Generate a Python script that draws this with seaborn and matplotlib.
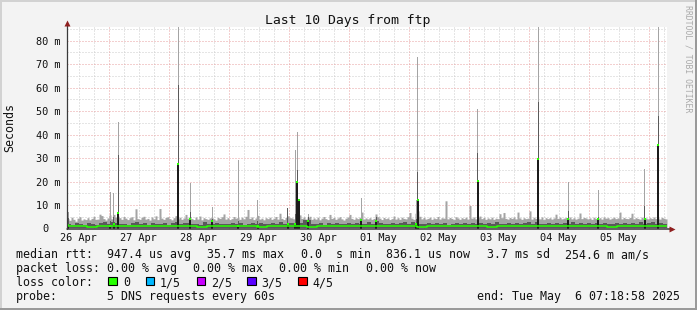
import numpy as np
import matplotlib
matplotlib.use("Agg")
import matplotlib.pyplot as plt
import matplotlib.transforms as mtransforms
import seaborn as sns
from matplotlib.patches import Rectangle

sns.set_style("white")
plt.rcParams['font.family'] = ['DejaVu Sans Mono', 'DejaVu Sans']

# ---------------- data ----------------
title = "Last 10 Days from ftp"
y_label = "Seconds"
watermark = "RRDTOOL / TOBI OETIKER"
span_days = 10
first_midnight_day = 0.6952   # Apr 27 00:00 relative to graph start (Apr 26 07:18:58)
day_labels = ["26 Apr", "27 Apr", "28 Apr", "29 Apr", "30 Apr",
              "01 May", "02 May", "03 May", "04 May", "05 May"]
y_ticks_ms = [0, 10, 20, 30, 40, 50, 60, 70, 80]
y_tick_labels = ["0", "10 m", "20 m", "30 m", "40 m", "50 m", "60 m", "70 m", "80 m"]

# outer smoke (fastest..slowest ping), ms, 300 bins
smoke_max = [
    4.2, 3.5, 4.8, 3.9, 3.1, 4.4, 5.0, 3.6, 4.1, 3.8,
    4.6, 3.7, 4.3, 5.2, 3.9, 4.0, 6.1, 5.5, 4.2, 3.6,
    4.5, 5.8, 4.1, 6.0, 4.8, 5.3, 4.6, 3.9, 5.1, 4.4,
    3.8, 4.6, 5.0, 3.7, 8.4, 4.2, 3.9, 4.8, 5.2, 4.0,
    4.3, 3.6, 4.9, 4.1, 5.4, 3.8, 8.5, 4.4, 3.9, 4.7,
    5.0, 4.2, 3.7, 4.6, 5.5, 4.1, 4.8, 3.9, 4.5, 6.0,
    4.4, 5.1, 4.2, 3.8, 4.9, 4.0, 5.3, 3.7, 4.6, 4.2,
    3.9, 4.5, 4.8, 4.1, 3.6, 4.7, 4.3, 5.0, 6.2, 4.0,
    4.6, 3.8, 4.2, 5.1, 4.4, 4.7, 3.9, 4.8, 4.1, 5.2,
    8.1, 4.3, 4.9, 3.8, 4.5, 5.6, 4.0, 4.4, 3.7, 4.6,
    4.2, 4.8, 3.9, 4.4, 5.1, 4.0, 6.5, 4.3, 3.8, 4.7,
    5.4, 4.6, 4.5, 4.1, 5.0, 4.6, 5.8, 4.3, 4.9, 4.0,
    4.6, 5.2, 3.9, 4.5, 4.0, 4.8, 3.7, 4.4, 5.1, 4.2,
    3.8, 6.0, 4.3, 4.7, 3.9, 4.5, 5.0, 4.1, 3.6, 4.4,
    4.9, 6.0, 4.3, 3.9, 4.6, 4.2, 4.8, 7.0, 4.0, 4.5,
    4.1, 4.6, 3.9, 4.3, 6.2, 5.0, 4.4, 3.8, 4.7, 4.2,
    4.5, 3.8, 4.2, 5.3, 4.0, 4.6, 3.9, 4.8, 4.3, 4.1,
    5.0, 6.8, 4.4, 3.9, 6.5, 7.5, 5.2, 4.1, 4.7, 4.0,
    4.3, 4.8, 3.9, 4.5, 4.2, 5.1, 4.0, 4.6, 4.4, 11.8,
    4.1, 4.7, 4.3, 3.8, 5.0, 4.5, 3.9, 4.6, 4.2, 4.8,
    4.0, 9.8, 4.4, 4.9, 4.1, 4.6, 5.3, 4.2, 4.7, 3.9,
    4.5, 4.1, 4.8, 3.9, 4.4, 4.2, 6.3, 4.6, 6.8, 4.3,
    4.0, 4.7, 4.3, 4.9, 4.1, 7.0, 4.5, 3.9, 4.6, 4.2,
    4.4, 7.5, 4.0, 4.8, 4.3, 4.5, 4.1, 4.9, 3.8, 4.6,
    4.2, 4.6, 4.0, 4.5, 6.1, 4.3, 4.8, 4.1, 4.4, 4.7,
    4.3, 4.9, 4.1, 4.6, 4.0, 4.4, 6.6, 4.2, 4.7, 4.5,
    4.1, 4.5, 3.9, 4.8, 4.3, 4.2, 4.6, 4.0, 4.9, 4.4,
    4.6, 4.0, 4.4, 4.8, 4.2, 4.5, 7.0, 4.1, 4.7, 4.3,
    4.2, 4.7, 6.5, 4.1, 4.6, 4.3, 4.0, 4.8, 4.4, 4.5,
    4.1, 4.6, 4.3, 4.9, 4.2, 4.5, 4.0, 4.7, 4.4, 4.1,
]
# inner smoke top (2nd..4th ping), ms, 150 bins
smoke_inner = [
    2.0, 1.6, 2.3, 1.8, 1.5, 2.4, 1.9, 1.7, 2.2, 2.6,
    2.1, 2.8, 2.4, 1.8, 2.0, 1.6, 2.3, 2.9, 1.9, 2.2,
    1.7, 2.4, 2.0, 1.8, 2.5, 1.6, 2.2, 2.7, 2.0, 2.3,
    2.4, 1.9, 2.1, 1.7, 2.6, 2.0, 1.8, 2.3, 2.1, 1.9,
    1.8, 2.2, 2.0, 2.5, 1.7, 2.1, 2.4, 1.9, 2.2, 1.8,
    2.0, 2.3, 1.8, 2.6, 2.1, 2.5, 2.2, 2.0, 2.4, 3.8,
    3.5, 2.1, 1.9, 2.3, 1.7, 2.2, 2.0, 2.5, 1.8, 2.1,
    2.3, 1.9, 2.4, 2.0, 1.8, 2.6, 2.1, 3.0, 2.2, 1.9,
    2.0, 2.4, 1.8, 2.2, 2.6, 2.1, 2.9, 2.3, 2.0, 1.8,
    2.2, 1.9, 2.5, 2.0, 2.3, 1.7, 2.1, 2.4, 1.9, 2.2,
    2.1, 2.5, 1.8, 2.3, 2.0, 2.2, 1.9, 2.6, 2.1, 1.8,
    2.3, 2.0, 2.4, 1.9, 2.2, 2.6, 2.0, 2.8, 2.1, 1.9,
    2.2, 1.8, 2.4, 2.0, 2.3, 2.1, 2.7, 1.9, 2.2, 2.0,
    2.4, 2.0, 2.2, 1.8, 2.5, 2.1, 1.9, 2.3, 2.0, 2.4,
    2.1, 2.3, 1.9, 2.6, 2.0, 2.2, 2.8, 1.8, 2.4, 2.1,
]
# median rtt, ms, 60 bins
median_rtt = [
    0.9, 1.0, 0.8, 1.1, 0.9, 1.0, 0.9, 1.2, 0.9, 1.0,
    1.0, 0.9, 1.1, 0.8, 1.0, 0.9, 1.0, 1.1, 0.9, 0.8,
    1.0, 1.1, 0.9, 1.0, 0.8, 1.0, 1.2, 0.9, 1.0, 0.9,
    0.9, 1.0, 1.1, 0.9, 1.0, 0.8, 0.9, 1.0, 1.1, 0.9,
    1.0, 0.9, 0.8, 1.0, 1.1, 0.9, 1.0, 0.9, 1.0, 1.1,
    0.9, 1.0, 1.1, 0.9, 0.8, 1.0, 0.9, 1.0, 1.1, 0.9,
]
smoke_floor = 0.35

# individual spikes: position (days since start), max, inner top, median (ms)
spike_day = [0.02, 0.72, 0.78, 0.85, 1.85, 2.05, 2.42, 2.85, 3.18, 3.68,
             3.80, 3.84, 3.86, 4.02, 4.90, 5.15, 5.82, 5.85, 6.85, 7.85,
             8.35, 8.85, 9.63, 9.85]
spike_max = [7.2, 15.5, 15.0, 45.5, 95.0, 19.5, 9.0, 29.2, 12.2, 8.7,
             33.5, 41.3, 12.0, 6.0, 13.0, 5.0, 12.0, 73.0, 51.0, 95.0,
             20.0, 16.5, 25.3, 95.0]
spike_inner = [4.5, 3.0, 5.0, 31.5, 61.0, 7.0, 4.0, 3.0, 3.0, 8.7,
               6.0, 25.0, 5.0, 5.0, 4.0, 5.0, 4.0, 24.0, 32.0, 54.0,
               7.5, 5.0, 9.6, 48.0]
spike_median = [1.5, 1.0, 2.0, 6.7, 27.5, 4.0, 3.0, 1.0, 1.0, 2.0,
                2.0, 20.0, 12.0, 3.0, 3.7, 3.0, 2.0, 12.0, 20.4, 29.5,
                4.0, 4.0, 4.0, 35.6]

loss_labels = ["0", "1/5", "2/5", "3/5", "4/5"]
loss_colors = ["#26ff00", "#00b8ff", "#c800ff", "#5a00ff", "#ff0000"]

rtt_label = "median rtt:"
rtt_items = ["947.4 us avg", "35.7 ms max", "0.0  s min", "836.1 us now",
             "3.7 ms sd", "254.6 m am/s"]
loss_label = "packet loss:"
loss_items = ["0.00 % avg", "0.00 % max", "0.00 % min", "0.00 % now"]
color_label = "loss color:"
probe_label = "probe:"
probe_text = "5 DNS requests every 60s"
end_text = "end: Tue May  6 07:18:58 2025"

# ---------------- styling ----------------
W, H, DPI = 697, 310, 100
BG = "#f3f3f3"
C_LIGHT = "#a4a4a4"
C_INNER = "#5a5a5a"
C_BLACK = "#1c1c1c"
C_MINOR = "#cdcdcd"
C_MAJOR = "#e8a0a0"
C_AXIS = "#3a3a3a"
C_ARROW = "#8f1f1f"
FS_LEG, FS_AXIS, FS_TITLE, FS_WM = 8.4, 7.35, 9.45, 5.9

fig = plt.figure(figsize=(W / DPI, H / DPI), dpi=DPI, facecolor=BG)
L, R, T, B = 67, 667, 27, 228.5
ax = fig.add_axes([L / W, 1 - B / H, (R - L) / W, (B - T) / H])
ax.set_facecolor("white")
ymax = (B - T) / ((B - 40.7) / 80.0)
ax.set_xlim(0, span_days)
ax.set_ylim(0, ymax)
px_day = span_days / (R - L)

def fx(x):
    return x / W

def fy(y):
    return 1 - y / H

# grid
lw_px = 72.0 / DPI
dot = (0, (1, 2))
for v in np.arange(5, ymax, 5):
    is_major = abs(v % 10) < 1e-6
    ax.axhline(v, color=C_MAJOR if is_major else C_MINOR, lw=lw_px, ls=dot,
               zorder=0.5 if is_major else 0.4)
for h in np.arange(first_midnight_day - 0.75, span_days, 0.25):
    if h <= 0.001:
        continue
    frac = (h - first_midnight_day) % 1.0
    is_major = frac < 1e-6 or abs(frac - 1) < 1e-6
    ax.axvline(h, color=C_MAJOR if is_major else C_MINOR, lw=lw_px, ls=dot,
               zorder=0.5 if is_major else 0.4)

# smoke bands
def steps(vals):
    n = len(vals)
    edges = np.linspace(0, span_days, n + 1)
    return edges, np.append(np.asarray(vals, float), vals[-1])

e1, v1 = steps(smoke_max)
ax.fill_between(e1, smoke_floor, v1, step="post", color=C_LIGHT, lw=0, zorder=2)
sd = np.asarray(spike_day)
ax.bar(sd, np.asarray(spike_max) - smoke_floor, bottom=smoke_floor, width=px_day,
       color=C_LIGHT, lw=0, zorder=2.1)
e2, v2 = steps(smoke_inner)
ax.fill_between(e2, smoke_floor, v2, step="post", color=C_INNER, lw=0, zorder=3)
ax.bar(sd, np.asarray(spike_inner) - smoke_floor, bottom=smoke_floor, width=px_day,
       color=C_INNER, lw=0, zorder=3.1)
ax.bar(sd, spike_median, bottom=0, width=2 * px_day, color=C_BLACK, lw=0, zorder=3.2)

# median line
e3, v3 = steps(median_rtt)
sns.lineplot(x=e3, y=v3, drawstyle="steps-post", color=loss_colors[0], lw=1.1,
             ax=ax, zorder=4, estimator=None, sort=False)
dot_h = 2.0 / ((B - T) / ymax)
ax.bar(sd, dot_h, bottom=np.asarray(spike_median) - dot_h / 2, width=2 * px_day,
       color=loss_colors[0], lw=0, zorder=4.5)

# axes
for s in ax.spines.values():
    s.set_visible(False)
ax.plot([0, 1.0075], [0, 0], transform=ax.transAxes, color=C_AXIS, lw=1.1,
        clip_on=False, zorder=6)
ax.plot([0, 0], [0, 1.015], transform=ax.transAxes, color=C_AXIS, lw=0.9,
        clip_on=False, zorder=6)
ax.plot([1.0085], [0], transform=ax.transAxes, marker=">", ms=4, color=C_ARROW,
        clip_on=False, zorder=7, mec="none")
ax.plot([0], [1.02], transform=ax.transAxes, marker="^", ms=4, color=C_ARROW,
        clip_on=False, zorder=7, mec="none")

# ticks / labels
noon = [first_midnight_day - 0.5 + i for i in range(len(day_labels))]
ax.set_xticks(noon)
ax.set_xticklabels(day_labels, fontsize=FS_AXIS, color="#111111")
ax.tick_params(axis="x", length=0, pad=3.3)
ax.set_yticks([])
ytrans = mtransforms.blended_transform_factory(fig.transFigure, ax.transData)
for v, lab in zip(y_ticks_ms, y_tick_labels):
    x_left = 36 if len(lab) > 1 else 42.2
    ax.text(fx(x_left), v, lab, transform=ytrans, ha="left", va="center_baseline",
            fontsize=FS_AXIS, color="#111111")

fig.text(fx(348), fy(24), title, ha="center", va="baseline", fontsize=FS_TITLE, color="#111111")
fig.text(fx(10), fy(127), y_label, rotation=90, ha="center", va="center",
         fontsize=FS_LEG, color="#111111")
fig.text(fx(688), fy(5), watermark, rotation=270, ha="center", va="top",
         fontsize=FS_WM, color="#aaaaaa")

# legend
txt = dict(ha="left", va="baseline", fontsize=FS_LEG, color="#111111")
fig.text(fx(16), fy(258), rtt_label, **txt)
for x, s in zip([107.3, 207.3, 300.7, 386, 486.7, 565], rtt_items):
    fig.text(fx(x), fy(258), s, **txt)
fig.text(fx(16), fy(272), loss_label, **txt)
for x, s in zip([107, 193.3, 279.3, 366], loss_items):
    fig.text(fx(x), fy(272), s, **txt)
fig.text(fx(16), fy(286), color_label, **txt)
for bx, lx, lab, col in zip([108.3, 145.7, 196.7, 247.3, 298.3],
                            [123.3, 160, 210.7, 261.7, 312.7], loss_labels, loss_colors):
    fig.add_artist(Rectangle((fx(bx), fy(285.3)), 8.3 / W, 8.3 / H, transform=fig.transFigure,
                             facecolor=col, edgecolor="black", lw=0.8))
    fig.text(fx(lx), fy(286), lab, **txt)
fig.text(fx(16), fy(300), probe_label, **txt)
fig.text(fx(107.3), fy(300), probe_text, **txt)
fig.text(fx(680), fy(300), end_text, ha="right", va="baseline", fontsize=FS_LEG, color="#111111")

# 3D frame
fig.add_artist(Rectangle((0, 1 - 2 / H), 1, 2 / H, transform=fig.transFigure, color="#d2d2d2", lw=0))
fig.add_artist(Rectangle((0, 0), 2 / W, 1, transform=fig.transFigure, color="#d2d2d2", lw=0))
fig.add_artist(Rectangle((0, 0), 1, 2 / H, transform=fig.transFigure, color="#9a9a9a", lw=0))
fig.add_artist(Rectangle((1 - 2 / W, 0), 2 / W, 1, transform=fig.transFigure, color="#9a9a9a", lw=0))

fig.savefig("out.png", dpi=DPI, facecolor=BG)
